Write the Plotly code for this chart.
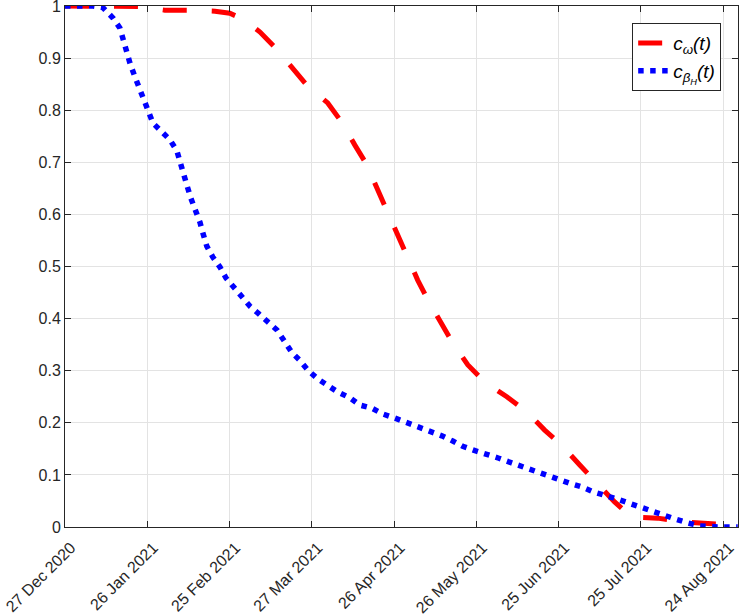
import pandas as pd
import plotly.graph_objects as go

start_date = "2020-12-27"

# c_omega(t): day offset from start, value
omega_days = [0, 12.8, 18.2, 26.6, 31, 36.4, 44.8, 49.2, 54.7, 60.1, 62.7, 67.4, 71.1,
              76.5, 83.1, 88.2, 95.8, 100.9, 105.7, 110.1, 113.7, 117.3, 121, 124.6,
              128.6, 132.3, 137.4, 141.4, 146.9, 153.1, 161.1, 168.4, 174.9, 181.1,
              187.7, 193.9, 200.4, 206.6, 211.3, 216.1, 224.9, 234.3, 243.1, 245.3]
omega_vals = [1.0, 1.0, 0.999, 0.999, 0.996, 0.992, 0.992, 0.991, 0.99, 0.986, 0.98, 0.965,
              0.95, 0.921, 0.88, 0.848, 0.814, 0.777, 0.733, 0.695, 0.651, 0.608, 0.56,
              0.522, 0.474, 0.436, 0.388, 0.353, 0.311, 0.278, 0.25, 0.221, 0.186, 0.157,
              0.119, 0.086, 0.048, 0.019, 0.017, 0.017, 0.01, 0.008, 0.004, 0.003]

# c_beta_H(t)
beta_days = [0, 10.2, 13.8, 17.5, 20, 21.1, 22.6, 23.7, 25.5, 27, 28.4, 29.9, 32.1, 35.4,
             38.3, 40.8, 41.9, 43, 44.5, 45.9, 47.7, 49.2, 50.3, 51.7, 53.9, 56.5, 58.7,
             61.6, 64.9, 67.4, 70.7, 74.3, 77.3, 80.2, 82.7, 85.6, 88.6, 92.2, 95.8, 99.5,
             103.9, 107.5, 111.9, 115.9, 120.3, 124.3, 128.6, 133, 137.4, 141.4, 145,
             149.8, 154.2, 158.2, 162.9, 166.9, 171.3, 175.7, 179.7, 184, 188.4, 192.8,
             197.2, 201.2, 205.5, 209.9, 214.3, 218.3, 222.7, 227, 231.4, 238.7, 245.3]
beta_vals = [1.0, 1.0, 0.997, 0.977, 0.958, 0.935, 0.912, 0.89, 0.864, 0.843, 0.82, 0.80,
             0.775, 0.758, 0.743, 0.722, 0.70, 0.678, 0.655, 0.631, 0.608, 0.585, 0.564,
             0.539, 0.518, 0.499, 0.478, 0.461, 0.441, 0.424, 0.409, 0.392, 0.378, 0.355,
             0.335, 0.32, 0.301, 0.284, 0.271, 0.259, 0.248, 0.234, 0.228, 0.217, 0.209,
             0.201, 0.192, 0.186, 0.175, 0.165, 0.155, 0.146, 0.14, 0.132, 0.123, 0.115,
             0.107, 0.10, 0.092, 0.084, 0.077, 0.067, 0.061, 0.054, 0.046, 0.038, 0.031,
             0.021, 0.015, 0.008, 0.002, 0.0, 0.0]

tick_days = [0, 30, 60, 90, 120, 150, 180, 210, 240]
y_ticks = [0, 0.1, 0.2, 0.3, 0.4, 0.5, 0.6, 0.7, 0.8, 0.9, 1]
x_end_days = 245.4

t0 = pd.Timestamp(start_date)
def to_dates(days):
    return [t0 + pd.Timedelta(days=d) for d in days]

fig = go.Figure()
fig.add_trace(go.Scatter(
    x=to_dates(omega_days), y=omega_vals, mode="lines",
    name="<i>c</i><sub><i>ω</i></sub><i>(t)</i>",
    line=dict(color="#ff0000", width=5, dash="24px,25px"),
))
fig.add_trace(go.Scatter(
    x=to_dates(beta_days), y=beta_vals, mode="lines",
    name="<i>c</i><sub><i>β<sub>H</sub></i></sub><i>(t)</i>",
    line=dict(color="#0000ff", width=5.5, dash="5.5px,6.5px"),
))

tick_dates = to_dates(tick_days)
axis_col = "#262626"
grid_col = "#e3e3e3"

fig.update_layout(
    width=744, height=614,
    margin=dict(l=65, r=6, t=6, b=87),
    paper_bgcolor="white", plot_bgcolor="white",
    font=dict(family="Liberation Sans, Arial, sans-serif", size=16, color=axis_col),
    showlegend=True,
    legend=dict(
        x=0.975, y=0.967, xanchor="right", yanchor="top",
        bgcolor="white", bordercolor=axis_col, borderwidth=1,
        font=dict(size=19, color="#000000"),
        itemwidth=30, tracegroupgap=10,
    ),
    xaxis=dict(
        range=[t0, t0 + pd.Timedelta(days=x_end_days)],
        tickvals=tick_dates,
        ticktext=[d.strftime("%-d %b %Y") for d in tick_dates],
        tickangle=-45,
        automargin=False,
        ticklabeloverflow="allow",
        ticklabelshift=6, ticklabelstandoff=4,
        showgrid=True, gridcolor=grid_col, gridwidth=1,
        showline=True, linecolor=axis_col, linewidth=1, mirror="ticks",
        ticks="inside", ticklen=6, tickcolor=axis_col,
        zeroline=False,
    ),
    yaxis=dict(
        range=[0, 1],
        tickvals=y_ticks,
        ticktext=[("%g" % v) for v in y_ticks],
        automargin=False,
        ticklabeloverflow="allow",
        showgrid=True, gridcolor=grid_col, gridwidth=1,
        showline=True, linecolor=axis_col, linewidth=1, mirror="ticks",
        ticks="inside", ticklen=6, tickcolor=axis_col,
        zeroline=False,
    ),
)

fig.write_html(
    "out.html",
    config={"displayModeBar": False},
    post_script="document.body.style.margin='0';document.body.style.overflow='hidden';",
)
